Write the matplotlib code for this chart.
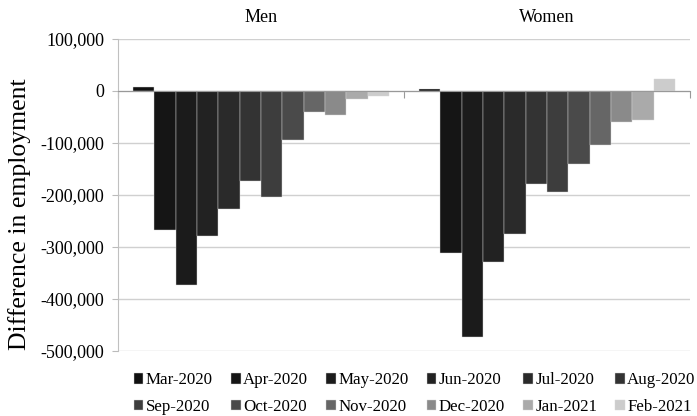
import numpy as np
import matplotlib.pyplot as plt
from matplotlib.ticker import FuncFormatter

groups = ["Men", "Women"]
months = ["Mar-2020", "Apr-2020", "May-2020", "Jun-2020", "Jul-2020", "Aug-2020",
          "Sep-2020", "Oct-2020", "Nov-2020", "Dec-2020", "Jan-2021", "Feb-2021"]
men = [8000, -268000, -373000, -279000, -227000, -174000,
       -204000, -94000, -41000, -47000, -16000, -10000]
women = [3000, -312000, -474000, -328000, -276000, -179000,
         -194000, -140000, -104000, -59000, -56000, 22500]
colors = ["#101010", "#151515", "#1b1b1b", "#222222", "#2a2a2a", "#333333",
          "#3d3d3d", "#4a4a4a", "#666666", "#8a8a8a", "#aaaaaa", "#cccccc"]

plt.rcParams["font.family"] = ["Liberation Serif", "DejaVu Serif"]

fig = plt.figure(figsize=(6.97, 4.16), dpi=100)
ax = fig.add_axes([0.1693, 0.1563, 0.8207, 0.75])

n = len(months)
group_w = 0.895
bw = group_w / n
x = np.arange(len(groups))
handles = []
for i, m in enumerate(months):
    vals = [men[i], women[i]]
    pos = x - group_w / 2 + bw * (i + 0.5)
    b = ax.bar(pos, vals, width=bw, color=colors[i], edgecolor="#d8d8d8",
               linewidth=0.3, label=m, zorder=3)
    handles.append(b)

ax.set_xlim(-0.5, 1.5)
ax.set_ylim(-500000, 100000)
ax.set_yticks(np.arange(-500000, 100001, 100000))
ax.yaxis.set_major_formatter(FuncFormatter(lambda v, p: f"{int(v):,}"))
ax.grid(axis="y", color="#d0d0d0", linewidth=1, zorder=0)
ax.tick_params(axis="y", length=4, color="#bbbbbb", labelsize=13, pad=6)
ax.set_ylabel("Difference in employment", fontsize=18.5)
ax.yaxis.set_label_coords(-0.152, 0.437)

# category boundaries as ticks on the zero line
ax.set_xticks([-0.5, 0.5, 1.5])
ax.set_xticklabels([])
ax.spines["bottom"].set_position(("data", 0))
ax.spines["bottom"].set_color("#999999")
ax.spines["bottom"].set_zorder(4)
ax.tick_params(axis="x", length=5, color="#999999", direction="out")
ax.spines["left"].set_color("#c0c0c0")
ax.spines["top"].set_visible(False)
ax.spines["right"].set_visible(False)

for gx, g in zip(x, groups):
    ax.text(gx, 1.07, g, transform=ax.get_xaxis_transform(), ha="center",
            va="center", fontsize=13)

# legend row-wise: 2 rows x 6 columns
order = []
for c in range(6):
    order += [c, c + 6]
leg = fig.legend([handles[k] for k in order], [months[k] for k in order],
                 ncol=6, loc="lower left", bbox_to_anchor=(0.173, -0.03),
                 frameon=False, fontsize=12.2, handlelength=0.55, handleheight=0.55,
                 handletextpad=0.15, columnspacing=1.08, labelspacing=0.62,
                 borderpad=0.3)

fig.savefig("out.png", dpi=100)
